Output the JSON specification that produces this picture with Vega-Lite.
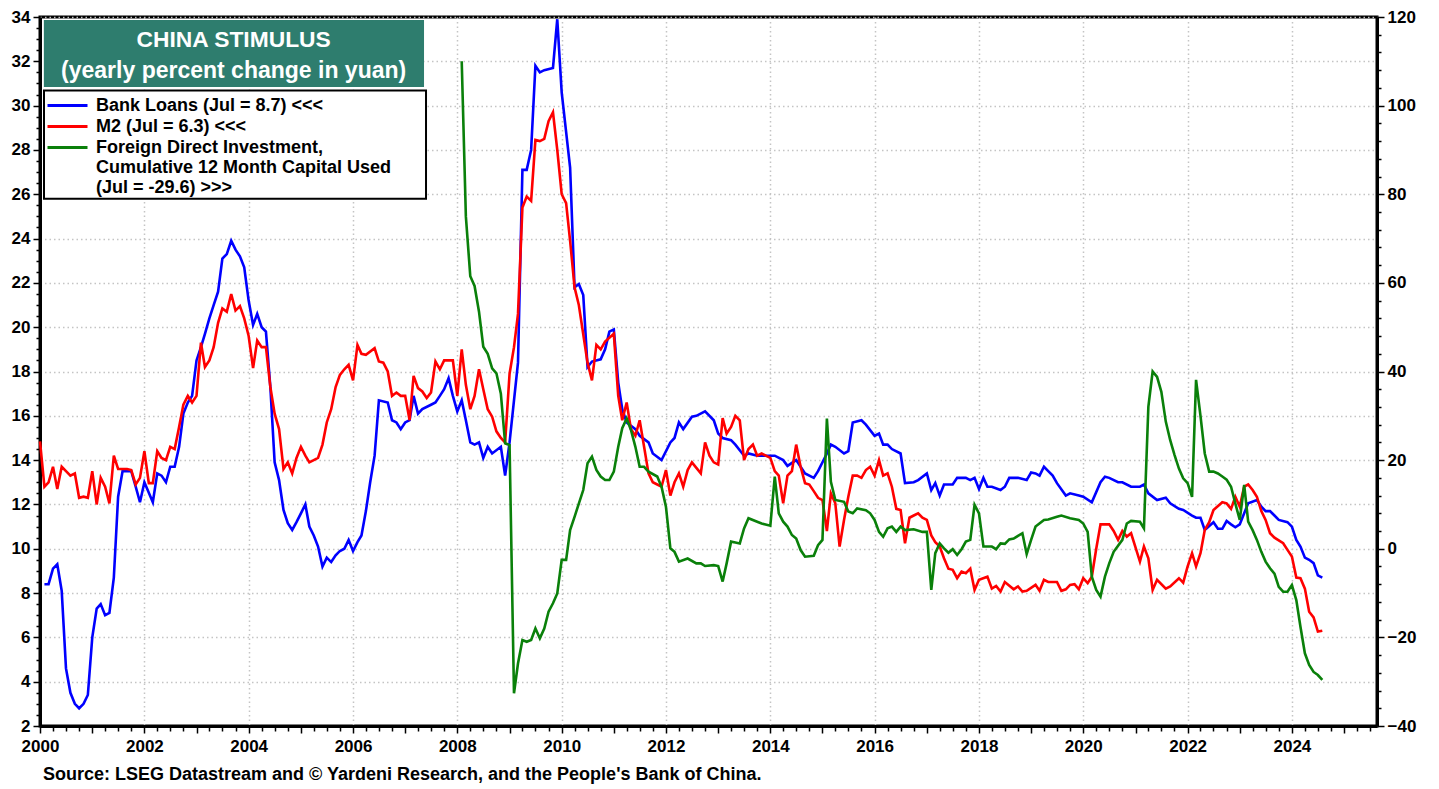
{
  "$schema": "https://vega.github.io/schema/vega-lite/v6.json",
  "width": 1337,
  "height": 709,
  "autosize": {"type": "none"},
  "padding": {"left": 40, "top": 17, "right": 62, "bottom": 63},
  "background": "white",
  "config": {
    "font": "Liberation Sans",
    "view": {"stroke": "black", "strokeWidth": 3},
    "axis": {
      "labelFont": "Liberation Sans",
      "labelFontWeight": "bold",
      "labelFontSize": 17,
      "labelColor": "black",
      "domainColor": "black",
      "domainWidth": 3,
      "tickColor": "black",
      "tickWidth": 1.5,
      "gridColor": "#c4c4c4",
      "gridDash": [1.5, 3],
      "gridWidth": 1.5,
      "labelOverlap": false,
      "labelFlush": false,
      "labelBound": false
    }
  },
  "title": {
    "text": "Source: LSEG Datastream and © Yardeni Research, and the People's Bank of China.",
    "orient": "bottom",
    "anchor": "start",
    "frame": "group",
    "dx": 3,
    "offset": 12,
    "font": "Liberation Sans",
    "fontSize": 18,
    "fontWeight": "bold",
    "color": "black"
  },
  "datasets": {
    "loans": [
      {"date": "2000-02", "value": 8.4}, {"date": "2000-03", "value": 8.4}, {"date": "2000-04", "value": 9.1}, {"date": "2000-05", "value": 9.3},
      {"date": "2000-06", "value": 8.1}, {"date": "2000-07", "value": 4.6}, {"date": "2000-08", "value": 3.5}, {"date": "2000-09", "value": 3.0},
      {"date": "2000-10", "value": 2.8}, {"date": "2000-11", "value": 3.0}, {"date": "2000-12", "value": 3.4}, {"date": "2001-01", "value": 6.0},
      {"date": "2001-02", "value": 7.3}, {"date": "2001-03", "value": 7.5}, {"date": "2001-04", "value": 7.0}, {"date": "2001-05", "value": 7.1},
      {"date": "2001-06", "value": 8.7}, {"date": "2001-07", "value": 12.35}, {"date": "2001-08", "value": 13.5}, {"date": "2001-10", "value": 13.5},
      {"date": "2001-11", "value": 12.8}, {"date": "2001-12", "value": 12.1}, {"date": "2002-01", "value": 13.0}, {"date": "2002-03", "value": 12.1},
      {"date": "2002-04", "value": 13.4}, {"date": "2002-05", "value": 13.3}, {"date": "2002-06", "value": 13.0}, {"date": "2002-07", "value": 13.7},
      {"date": "2002-08", "value": 13.7}, {"date": "2002-09", "value": 14.6}, {"date": "2002-10", "value": 16.1}, {"date": "2002-11", "value": 16.6},
      {"date": "2002-12", "value": 16.9}, {"date": "2003-01", "value": 18.5}, {"date": "2003-02", "value": 19.1}, {"date": "2003-03", "value": 19.7},
      {"date": "2003-04", "value": 20.4}, {"date": "2003-05", "value": 21.0}, {"date": "2003-06", "value": 21.6}, {"date": "2003-07", "value": 23.1},
      {"date": "2003-08", "value": 23.3}, {"date": "2003-09", "value": 23.9}, {"date": "2003-10", "value": 23.5}, {"date": "2003-11", "value": 23.2},
      {"date": "2003-12", "value": 22.7}, {"date": "2004-01", "value": 21.2}, {"date": "2004-02", "value": 20.1}, {"date": "2004-03", "value": 20.6},
      {"date": "2004-04", "value": 20.0}, {"date": "2004-05", "value": 19.8}, {"date": "2004-06", "value": 17.3}, {"date": "2004-07", "value": 13.9},
      {"date": "2004-08", "value": 13.1}, {"date": "2004-09", "value": 11.75}, {"date": "2004-10", "value": 11.15}, {"date": "2004-11", "value": 10.85},
      {"date": "2004-12", "value": 11.2}, {"date": "2005-01", "value": 11.6}, {"date": "2005-02", "value": 12.0}, {"date": "2005-03", "value": 11.0},
      {"date": "2005-04", "value": 10.6}, {"date": "2005-05", "value": 10.1}, {"date": "2005-06", "value": 9.2}, {"date": "2005-07", "value": 9.6},
      {"date": "2005-08", "value": 9.4}, {"date": "2005-09", "value": 9.7}, {"date": "2005-10", "value": 9.9}, {"date": "2005-11", "value": 10.0},
      {"date": "2005-12", "value": 10.4}, {"date": "2006-01", "value": 9.9}, {"date": "2006-02", "value": 10.3}, {"date": "2006-03", "value": 10.6},
      {"date": "2006-04", "value": 11.7}, {"date": "2006-05", "value": 13.0}, {"date": "2006-06", "value": 14.2}, {"date": "2006-07", "value": 16.7},
      {"date": "2006-09", "value": 16.6}, {"date": "2006-10", "value": 15.8}, {"date": "2006-11", "value": 15.7}, {"date": "2006-12", "value": 15.4},
      {"date": "2007-01", "value": 15.7}, {"date": "2007-02", "value": 15.8}, {"date": "2007-03", "value": 16.9}, {"date": "2007-04", "value": 16.1},
      {"date": "2007-05", "value": 16.3}, {"date": "2007-07", "value": 16.5}, {"date": "2007-08", "value": 16.6}, {"date": "2007-09", "value": 16.9},
      {"date": "2007-10", "value": 17.2}, {"date": "2007-11", "value": 17.7}, {"date": "2007-12", "value": 16.9}, {"date": "2008-01", "value": 16.2},
      {"date": "2008-02", "value": 16.7}, {"date": "2008-03", "value": 15.8}, {"date": "2008-04", "value": 14.8}, {"date": "2008-05", "value": 14.7},
      {"date": "2008-06", "value": 14.8}, {"date": "2008-07", "value": 14.1}, {"date": "2008-08", "value": 14.6}, {"date": "2008-09", "value": 14.3},
      {"date": "2008-11", "value": 14.6}, {"date": "2008-12", "value": 13.3}, {"date": "2009-01", "value": 14.8}, {"date": "2009-03", "value": 18.4},
      {"date": "2009-04", "value": 27.1}, {"date": "2009-05", "value": 27.1}, {"date": "2009-06", "value": 28.0}, {"date": "2009-07", "value": 31.8},
      {"date": "2009-08", "value": 31.5}, {"date": "2009-09", "value": 31.6}, {"date": "2009-11", "value": 31.7}, {"date": "2009-12", "value": 33.9},
      {"date": "2010-01", "value": 30.6}, {"date": "2010-03", "value": 27.2}, {"date": "2010-04", "value": 21.8}, {"date": "2010-05", "value": 21.95},
      {"date": "2010-06", "value": 21.45}, {"date": "2010-07", "value": 18.2}, {"date": "2010-08", "value": 18.45}, {"date": "2010-10", "value": 18.55},
      {"date": "2010-11", "value": 19.0}, {"date": "2010-12", "value": 19.8}, {"date": "2011-01", "value": 19.9}, {"date": "2011-02", "value": 17.5},
      {"date": "2011-03", "value": 16.3}, {"date": "2011-04", "value": 15.7}, {"date": "2011-06", "value": 15.4}, {"date": "2011-07", "value": 15.1},
      {"date": "2011-09", "value": 14.8}, {"date": "2011-10", "value": 14.3}, {"date": "2011-12", "value": 14.0}, {"date": "2012-02", "value": 14.8},
      {"date": "2012-03", "value": 15.0}, {"date": "2012-04", "value": 15.7}, {"date": "2012-05", "value": 15.4}, {"date": "2012-07", "value": 15.96},
      {"date": "2012-08", "value": 16.0}, {"date": "2012-10", "value": 16.2}, {"date": "2012-12", "value": 15.8}, {"date": "2013-01", "value": 15.2},
      {"date": "2013-02", "value": 15.0}, {"date": "2013-04", "value": 14.9}, {"date": "2013-05", "value": 14.7}, {"date": "2013-07", "value": 14.2},
      {"date": "2013-08", "value": 14.3}, {"date": "2013-10", "value": 14.2}, {"date": "2013-12", "value": 14.2}, {"date": "2014-02", "value": 14.2},
      {"date": "2014-04", "value": 14.0}, {"date": "2014-05", "value": 13.74}, {"date": "2014-07", "value": 14.0}, {"date": "2014-09", "value": 13.4},
      {"date": "2014-11", "value": 13.2}, {"date": "2014-12", "value": 13.5}, {"date": "2015-02", "value": 14.3}, {"date": "2015-03", "value": 14.7},
      {"date": "2015-04", "value": 14.6}, {"date": "2015-06", "value": 14.3}, {"date": "2015-07", "value": 14.4}, {"date": "2015-08", "value": 15.7},
      {"date": "2015-10", "value": 15.8}, {"date": "2015-11", "value": 15.6}, {"date": "2016-01", "value": 15.1}, {"date": "2016-02", "value": 15.2},
      {"date": "2016-03", "value": 14.7}, {"date": "2016-04", "value": 14.7}, {"date": "2016-05", "value": 14.5}, {"date": "2016-07", "value": 14.3},
      {"date": "2016-08", "value": 12.96}, {"date": "2016-10", "value": 13.0}, {"date": "2016-11", "value": 13.1}, {"date": "2017-01", "value": 13.4},
      {"date": "2017-02", "value": 12.65}, {"date": "2017-03", "value": 12.96}, {"date": "2017-04", "value": 12.4}, {"date": "2017-05", "value": 12.9},
      {"date": "2017-07", "value": 12.9}, {"date": "2017-08", "value": 13.2}, {"date": "2017-10", "value": 13.2}, {"date": "2017-11", "value": 13.1},
      {"date": "2017-12", "value": 13.2}, {"date": "2018-01", "value": 12.7}, {"date": "2018-02", "value": 13.2}, {"date": "2018-03", "value": 12.8},
      {"date": "2018-04", "value": 12.8}, {"date": "2018-06", "value": 12.65}, {"date": "2018-07", "value": 12.8}, {"date": "2018-08", "value": 13.2},
      {"date": "2018-10", "value": 13.2}, {"date": "2018-12", "value": 13.1}, {"date": "2019-01", "value": 13.44}, {"date": "2019-02", "value": 13.4},
      {"date": "2019-03", "value": 13.3}, {"date": "2019-04", "value": 13.7}, {"date": "2019-05", "value": 13.5}, {"date": "2019-06", "value": 13.3},
      {"date": "2019-07", "value": 12.96}, {"date": "2019-09", "value": 12.4}, {"date": "2019-10", "value": 12.5}, {"date": "2019-12", "value": 12.4},
      {"date": "2020-01", "value": 12.35}, {"date": "2020-03", "value": 12.1}, {"date": "2020-05", "value": 13.0}, {"date": "2020-06", "value": 13.25},
      {"date": "2020-07", "value": 13.2}, {"date": "2020-09", "value": 13.0}, {"date": "2020-10", "value": 13.0}, {"date": "2020-12", "value": 12.8},
      {"date": "2021-02", "value": 12.8}, {"date": "2021-03", "value": 12.9}, {"date": "2021-04", "value": 12.5}, {"date": "2021-06", "value": 12.2},
      {"date": "2021-08", "value": 12.3}, {"date": "2021-09", "value": 12.05}, {"date": "2021-11", "value": 11.8}, {"date": "2021-12", "value": 11.75},
      {"date": "2022-02", "value": 11.5}, {"date": "2022-03", "value": 11.4}, {"date": "2022-04", "value": 11.4}, {"date": "2022-05", "value": 10.85},
      {"date": "2022-07", "value": 11.2}, {"date": "2022-08", "value": 10.9}, {"date": "2022-09", "value": 10.9}, {"date": "2022-10", "value": 11.25},
      {"date": "2022-11", "value": 11.1}, {"date": "2022-12", "value": 10.97}, {"date": "2023-01", "value": 11.1}, {"date": "2023-02", "value": 11.6},
      {"date": "2023-03", "value": 12.05}, {"date": "2023-05", "value": 12.2}, {"date": "2023-06", "value": 11.9}, {"date": "2023-07", "value": 11.7},
      {"date": "2023-08", "value": 11.7}, {"date": "2023-09", "value": 11.5}, {"date": "2023-10", "value": 11.3}, {"date": "2023-12", "value": 11.2},
      {"date": "2024-01", "value": 11.0}, {"date": "2024-02", "value": 10.4}, {"date": "2024-03", "value": 10.1}, {"date": "2024-04", "value": 9.6},
      {"date": "2024-05", "value": 9.5}, {"date": "2024-06", "value": 9.35}, {"date": "2024-07", "value": 8.8}, {"date": "2024-08", "value": 8.7}
    ],
    "m2": [
      {"date": "2000-01", "value": 14.85}, {"date": "2000-02", "value": 12.8}, {"date": "2000-03", "value": 13.0}, {"date": "2000-04", "value": 13.7},
      {"date": "2000-05", "value": 12.7}, {"date": "2000-06", "value": 13.7}, {"date": "2000-07", "value": 13.5}, {"date": "2000-08", "value": 13.3},
      {"date": "2000-09", "value": 13.4}, {"date": "2000-10", "value": 12.3}, {"date": "2000-11", "value": 12.35}, {"date": "2000-12", "value": 12.3},
      {"date": "2001-01", "value": 13.5}, {"date": "2001-02", "value": 12.0}, {"date": "2001-03", "value": 13.2}, {"date": "2001-04", "value": 12.8},
      {"date": "2001-05", "value": 12.05}, {"date": "2001-06", "value": 14.2}, {"date": "2001-07", "value": 13.6}, {"date": "2001-09", "value": 13.6},
      {"date": "2001-10", "value": 13.55}, {"date": "2001-11", "value": 12.9}, {"date": "2001-12", "value": 13.2}, {"date": "2002-01", "value": 14.4},
      {"date": "2002-02", "value": 12.96}, {"date": "2002-03", "value": 12.96}, {"date": "2002-04", "value": 14.4}, {"date": "2002-05", "value": 14.1},
      {"date": "2002-06", "value": 14.0}, {"date": "2002-07", "value": 14.6}, {"date": "2002-08", "value": 14.5}, {"date": "2002-09", "value": 15.5},
      {"date": "2002-10", "value": 16.5}, {"date": "2002-11", "value": 16.9}, {"date": "2002-12", "value": 16.6}, {"date": "2003-01", "value": 16.9},
      {"date": "2003-02", "value": 19.3}, {"date": "2003-03", "value": 18.2}, {"date": "2003-04", "value": 18.5}, {"date": "2003-05", "value": 19.1},
      {"date": "2003-06", "value": 20.2}, {"date": "2003-07", "value": 20.85}, {"date": "2003-08", "value": 20.7}, {"date": "2003-09", "value": 21.5},
      {"date": "2003-10", "value": 20.75}, {"date": "2003-11", "value": 20.95}, {"date": "2003-12", "value": 20.4}, {"date": "2004-01", "value": 19.6},
      {"date": "2004-02", "value": 18.15}, {"date": "2004-03", "value": 19.4}, {"date": "2004-04", "value": 19.1}, {"date": "2004-05", "value": 19.1},
      {"date": "2004-06", "value": 17.3}, {"date": "2004-07", "value": 16.1}, {"date": "2004-08", "value": 15.4}, {"date": "2004-09", "value": 13.6},
      {"date": "2004-10", "value": 13.9}, {"date": "2004-11", "value": 13.4}, {"date": "2004-12", "value": 14.1}, {"date": "2005-01", "value": 14.6},
      {"date": "2005-02", "value": 14.2}, {"date": "2005-03", "value": 13.9}, {"date": "2005-04", "value": 14.0}, {"date": "2005-05", "value": 14.1},
      {"date": "2005-06", "value": 14.7}, {"date": "2005-07", "value": 15.7}, {"date": "2005-08", "value": 16.3}, {"date": "2005-09", "value": 17.3},
      {"date": "2005-10", "value": 17.85}, {"date": "2005-11", "value": 18.1}, {"date": "2005-12", "value": 18.3}, {"date": "2006-01", "value": 17.6},
      {"date": "2006-02", "value": 19.2}, {"date": "2006-03", "value": 18.8}, {"date": "2006-04", "value": 18.75}, {"date": "2006-06", "value": 19.05},
      {"date": "2006-07", "value": 18.45}, {"date": "2006-08", "value": 18.4}, {"date": "2006-09", "value": 18.0}, {"date": "2006-10", "value": 16.9},
      {"date": "2006-11", "value": 17.05}, {"date": "2006-12", "value": 16.9}, {"date": "2007-01", "value": 16.9}, {"date": "2007-02", "value": 15.8},
      {"date": "2007-03", "value": 17.8}, {"date": "2007-04", "value": 17.25}, {"date": "2007-05", "value": 17.1}, {"date": "2007-06", "value": 16.8},
      {"date": "2007-07", "value": 17.05}, {"date": "2007-08", "value": 18.45}, {"date": "2007-09", "value": 18.1}, {"date": "2007-10", "value": 18.5},
      {"date": "2007-12", "value": 18.5}, {"date": "2008-01", "value": 16.9}, {"date": "2008-02", "value": 19.0}, {"date": "2008-03", "value": 17.4},
      {"date": "2008-04", "value": 16.3}, {"date": "2008-05", "value": 16.9}, {"date": "2008-06", "value": 18.1}, {"date": "2008-07", "value": 17.2},
      {"date": "2008-08", "value": 16.3}, {"date": "2008-09", "value": 15.96}, {"date": "2008-10", "value": 15.3}, {"date": "2008-11", "value": 15.0},
      {"date": "2008-12", "value": 14.8}, {"date": "2009-01", "value": 17.9}, {"date": "2009-02", "value": 19.1}, {"date": "2009-03", "value": 20.6},
      {"date": "2009-04", "value": 25.4}, {"date": "2009-05", "value": 25.9}, {"date": "2009-06", "value": 25.7}, {"date": "2009-07", "value": 28.45},
      {"date": "2009-08", "value": 28.4}, {"date": "2009-09", "value": 28.5}, {"date": "2009-10", "value": 29.3}, {"date": "2009-11", "value": 29.7},
      {"date": "2009-12", "value": 28.0}, {"date": "2010-01", "value": 26.0}, {"date": "2010-02", "value": 25.6}, {"date": "2010-03", "value": 23.9},
      {"date": "2010-04", "value": 21.8}, {"date": "2010-05", "value": 21.0}, {"date": "2010-07", "value": 18.4}, {"date": "2010-08", "value": 17.6},
      {"date": "2010-09", "value": 19.2}, {"date": "2010-10", "value": 19.0}, {"date": "2010-11", "value": 19.35}, {"date": "2011-01", "value": 19.7},
      {"date": "2011-02", "value": 16.9}, {"date": "2011-03", "value": 15.8}, {"date": "2011-04", "value": 16.6}, {"date": "2011-05", "value": 15.4},
      {"date": "2011-06", "value": 15.1}, {"date": "2011-07", "value": 15.8}, {"date": "2011-08", "value": 14.6}, {"date": "2011-09", "value": 13.4},
      {"date": "2011-10", "value": 13.0}, {"date": "2011-11", "value": 12.9}, {"date": "2011-12", "value": 12.8}, {"date": "2012-01", "value": 13.55},
      {"date": "2012-02", "value": 12.4}, {"date": "2012-03", "value": 13.0}, {"date": "2012-04", "value": 13.4}, {"date": "2012-05", "value": 12.8},
      {"date": "2012-06", "value": 13.55}, {"date": "2012-07", "value": 13.9}, {"date": "2012-09", "value": 13.4}, {"date": "2012-10", "value": 14.8},
      {"date": "2012-11", "value": 14.2}, {"date": "2012-12", "value": 13.9}, {"date": "2013-01", "value": 13.8}, {"date": "2013-02", "value": 15.9},
      {"date": "2013-03", "value": 15.2}, {"date": "2013-04", "value": 15.5}, {"date": "2013-05", "value": 16.0}, {"date": "2013-06", "value": 15.8},
      {"date": "2013-07", "value": 14.0}, {"date": "2013-08", "value": 14.5}, {"date": "2013-09", "value": 14.7}, {"date": "2013-10", "value": 14.2},
      {"date": "2013-11", "value": 14.3}, {"date": "2014-01", "value": 14.1}, {"date": "2014-02", "value": 13.5}, {"date": "2014-03", "value": 13.3},
      {"date": "2014-04", "value": 12.05}, {"date": "2014-05", "value": 13.3}, {"date": "2014-06", "value": 13.5}, {"date": "2014-07", "value": 14.7},
      {"date": "2014-08", "value": 13.7}, {"date": "2014-09", "value": 12.96}, {"date": "2014-10", "value": 12.9}, {"date": "2014-11", "value": 12.6},
      {"date": "2014-12", "value": 12.3}, {"date": "2015-01", "value": 12.2}, {"date": "2015-02", "value": 10.8}, {"date": "2015-03", "value": 12.5},
      {"date": "2015-04", "value": 12.05}, {"date": "2015-05", "value": 10.1}, {"date": "2015-06", "value": 11.3}, {"date": "2015-07", "value": 12.35},
      {"date": "2015-08", "value": 13.3}, {"date": "2015-09", "value": 13.3}, {"date": "2015-10", "value": 13.2}, {"date": "2015-11", "value": 13.55},
      {"date": "2015-12", "value": 13.7}, {"date": "2016-01", "value": 13.3}, {"date": "2016-02", "value": 14.0}, {"date": "2016-03", "value": 13.3},
      {"date": "2016-04", "value": 13.4}, {"date": "2016-05", "value": 12.8}, {"date": "2016-06", "value": 11.8}, {"date": "2016-07", "value": 11.75},
      {"date": "2016-08", "value": 10.25}, {"date": "2016-09", "value": 11.4}, {"date": "2016-10", "value": 11.5}, {"date": "2016-11", "value": 11.6},
      {"date": "2016-12", "value": 11.4}, {"date": "2017-01", "value": 11.3}, {"date": "2017-02", "value": 10.6}, {"date": "2017-03", "value": 10.3},
      {"date": "2017-04", "value": 10.1}, {"date": "2017-05", "value": 9.57}, {"date": "2017-06", "value": 9.1}, {"date": "2017-07", "value": 9.05},
      {"date": "2017-08", "value": 8.67}, {"date": "2017-09", "value": 8.97}, {"date": "2017-10", "value": 8.9}, {"date": "2017-11", "value": 9.1},
      {"date": "2017-12", "value": 8.14}, {"date": "2018-01", "value": 8.6}, {"date": "2018-03", "value": 8.74}, {"date": "2018-04", "value": 8.2},
      {"date": "2018-05", "value": 8.32}, {"date": "2018-06", "value": 8.07}, {"date": "2018-07", "value": 8.5}, {"date": "2018-09", "value": 8.17},
      {"date": "2018-10", "value": 8.3}, {"date": "2018-11", "value": 8.07}, {"date": "2018-12", "value": 8.1}, {"date": "2019-02", "value": 8.37},
      {"date": "2019-03", "value": 8.1}, {"date": "2019-04", "value": 8.6}, {"date": "2019-05", "value": 8.5}, {"date": "2019-07", "value": 8.5},
      {"date": "2019-08", "value": 8.1}, {"date": "2019-09", "value": 8.17}, {"date": "2019-10", "value": 8.37}, {"date": "2019-11", "value": 8.4},
      {"date": "2019-12", "value": 8.17}, {"date": "2020-01", "value": 8.67}, {"date": "2020-02", "value": 8.45}, {"date": "2020-03", "value": 8.74},
      {"date": "2020-04", "value": 10.0}, {"date": "2020-05", "value": 11.1}, {"date": "2020-06", "value": 11.1}, {"date": "2020-07", "value": 11.1},
      {"date": "2020-08", "value": 10.8}, {"date": "2020-09", "value": 10.4}, {"date": "2020-10", "value": 10.8}, {"date": "2020-11", "value": 10.55},
      {"date": "2020-12", "value": 10.7}, {"date": "2021-01", "value": 10.06}, {"date": "2021-02", "value": 9.42}, {"date": "2021-03", "value": 10.1},
      {"date": "2021-04", "value": 9.57}, {"date": "2021-05", "value": 8.14}, {"date": "2021-06", "value": 8.6}, {"date": "2021-08", "value": 8.2},
      {"date": "2021-09", "value": 8.3}, {"date": "2021-11", "value": 8.67}, {"date": "2021-12", "value": 8.47}, {"date": "2022-01", "value": 9.2},
      {"date": "2022-02", "value": 9.8}, {"date": "2022-03", "value": 9.2}, {"date": "2022-04", "value": 9.8}, {"date": "2022-05", "value": 10.85},
      {"date": "2022-06", "value": 11.2}, {"date": "2022-07", "value": 11.75}, {"date": "2022-09", "value": 12.1}, {"date": "2022-10", "value": 12.05},
      {"date": "2022-11", "value": 11.8}, {"date": "2022-12", "value": 12.35}, {"date": "2023-01", "value": 11.9}, {"date": "2023-02", "value": 12.8},
      {"date": "2023-03", "value": 12.9}, {"date": "2023-04", "value": 12.65}, {"date": "2023-05", "value": 12.35}, {"date": "2023-06", "value": 11.7},
      {"date": "2023-07", "value": 11.3}, {"date": "2023-08", "value": 10.7}, {"date": "2023-09", "value": 10.5}, {"date": "2023-11", "value": 10.25},
      {"date": "2023-12", "value": 9.95}, {"date": "2024-01", "value": 9.65}, {"date": "2024-02", "value": 8.7}, {"date": "2024-03", "value": 8.67},
      {"date": "2024-04", "value": 8.2}, {"date": "2024-05", "value": 7.16}, {"date": "2024-06", "value": 6.9}, {"date": "2024-07", "value": 6.26},
      {"date": "2024-08", "value": 6.3}
    ],
    "fdi": [
      {"date": "2008-02", "value": 110}, {"date": "2008-03", "value": 75}, {"date": "2008-04", "value": 61.5}, {"date": "2008-05", "value": 59.3},
      {"date": "2008-06", "value": 53.5}, {"date": "2008-07", "value": 45.6}, {"date": "2008-08", "value": 44.0}, {"date": "2008-09", "value": 40.7},
      {"date": "2008-10", "value": 39.6}, {"date": "2008-11", "value": 35.0}, {"date": "2008-12", "value": 23.8}, {"date": "2009-01", "value": 23.4},
      {"date": "2009-02", "value": -32.6}, {"date": "2009-03", "value": -25.9}, {"date": "2009-04", "value": -20.6}, {"date": "2009-05", "value": -21.0},
      {"date": "2009-06", "value": -20.6}, {"date": "2009-07", "value": -18.0}, {"date": "2009-08", "value": -20.2}, {"date": "2009-09", "value": -18.0},
      {"date": "2009-10", "value": -14.2}, {"date": "2009-11", "value": -12.3}, {"date": "2009-12", "value": -10.1}, {"date": "2010-01", "value": -2.5},
      {"date": "2010-02", "value": -2.5}, {"date": "2010-03", "value": 4.2}, {"date": "2010-04", "value": 7.2}, {"date": "2010-05", "value": 10.2},
      {"date": "2010-06", "value": 13.25}, {"date": "2010-07", "value": 19.3}, {"date": "2010-08", "value": 20.8}, {"date": "2010-09", "value": 17.8},
      {"date": "2010-10", "value": 16.3}, {"date": "2010-11", "value": 15.5}, {"date": "2010-12", "value": 15.5}, {"date": "2011-01", "value": 17.4},
      {"date": "2011-02", "value": 23.0}, {"date": "2011-03", "value": 27.2}, {"date": "2011-04", "value": 29.4}, {"date": "2011-05", "value": 26.8},
      {"date": "2011-06", "value": 23.0}, {"date": "2011-07", "value": 18.5}, {"date": "2011-08", "value": 18.5}, {"date": "2011-09", "value": 17.4},
      {"date": "2011-11", "value": 16.3}, {"date": "2011-12", "value": 14.0}, {"date": "2012-01", "value": 9.5}, {"date": "2012-02", "value": 0.1},
      {"date": "2012-03", "value": -0.7}, {"date": "2012-04", "value": -2.9}, {"date": "2012-06", "value": -2.2}, {"date": "2012-08", "value": -3.3},
      {"date": "2012-09", "value": -3.3}, {"date": "2012-10", "value": -3.9}, {"date": "2012-12", "value": -3.7}, {"date": "2013-01", "value": -3.9},
      {"date": "2013-02", "value": -7.4}, {"date": "2013-03", "value": -3.3}, {"date": "2013-04", "value": 1.6}, {"date": "2013-05", "value": 1.4},
      {"date": "2013-06", "value": 1.2}, {"date": "2013-07", "value": 4.6}, {"date": "2013-08", "value": 6.9}, {"date": "2013-10", "value": 6.1},
      {"date": "2013-11", "value": 5.7}, {"date": "2014-01", "value": 5.2}, {"date": "2014-02", "value": 16.3}, {"date": "2014-03", "value": 8.0},
      {"date": "2014-04", "value": 6.1}, {"date": "2014-05", "value": 5.0}, {"date": "2014-06", "value": 3.1}, {"date": "2014-07", "value": 2.3},
      {"date": "2014-08", "value": -0.3}, {"date": "2014-09", "value": -1.8}, {"date": "2014-11", "value": -1.6}, {"date": "2014-12", "value": 0.8},
      {"date": "2015-01", "value": 2.0}, {"date": "2015-02", "value": 29.4}, {"date": "2015-03", "value": 15.1}, {"date": "2015-04", "value": 11.0},
      {"date": "2015-06", "value": 10.6}, {"date": "2015-07", "value": 8.4}, {"date": "2015-08", "value": 8.0}, {"date": "2015-09", "value": 9.1},
      {"date": "2015-11", "value": 8.7}, {"date": "2015-12", "value": 8.0}, {"date": "2016-01", "value": 6.5}, {"date": "2016-02", "value": 3.8},
      {"date": "2016-03", "value": 2.7}, {"date": "2016-04", "value": 4.6}, {"date": "2016-05", "value": 5.0}, {"date": "2016-06", "value": 3.8},
      {"date": "2016-07", "value": 5.0}, {"date": "2016-08", "value": 4.2}, {"date": "2016-10", "value": 4.4}, {"date": "2016-12", "value": 3.8},
      {"date": "2017-01", "value": 3.8}, {"date": "2017-02", "value": -9.3}, {"date": "2017-03", "value": -1.0}, {"date": "2017-04", "value": 1.2},
      {"date": "2017-05", "value": 0.1}, {"date": "2017-06", "value": -0.9}, {"date": "2017-07", "value": -0.1}, {"date": "2017-08", "value": -1.4},
      {"date": "2017-09", "value": -0.1}, {"date": "2017-10", "value": 1.6}, {"date": "2017-11", "value": 2.0}, {"date": "2017-12", "value": 9.9},
      {"date": "2018-01", "value": 8.0}, {"date": "2018-02", "value": 0.5}, {"date": "2018-04", "value": 0.5}, {"date": "2018-05", "value": -0.1},
      {"date": "2018-06", "value": 1.2}, {"date": "2018-07", "value": 1.1}, {"date": "2018-08", "value": 2.1}, {"date": "2018-09", "value": 2.3},
      {"date": "2018-10", "value": 2.9}, {"date": "2018-11", "value": 3.5}, {"date": "2018-12", "value": -1.2}, {"date": "2019-01", "value": 2.0},
      {"date": "2019-02", "value": 5.0}, {"date": "2019-04", "value": 6.5}, {"date": "2019-05", "value": 6.6}, {"date": "2019-07", "value": 7.2},
      {"date": "2019-08", "value": 7.5}, {"date": "2019-10", "value": 6.9}, {"date": "2019-12", "value": 6.5}, {"date": "2020-01", "value": 5.7},
      {"date": "2020-02", "value": 3.8}, {"date": "2020-03", "value": -6.3}, {"date": "2020-04", "value": -9.3}, {"date": "2020-05", "value": -10.8},
      {"date": "2020-06", "value": -6.3}, {"date": "2020-07", "value": -3.3}, {"date": "2020-08", "value": -0.7}, {"date": "2020-10", "value": 2.0},
      {"date": "2020-11", "value": 5.7}, {"date": "2020-12", "value": 6.3}, {"date": "2021-02", "value": 6.1}, {"date": "2021-03", "value": 4.6},
      {"date": "2021-04", "value": 32.0}, {"date": "2021-05", "value": 40.0}, {"date": "2021-06", "value": 38.8}, {"date": "2021-07", "value": 35.4},
      {"date": "2021-08", "value": 28.7}, {"date": "2021-09", "value": 24.5}, {"date": "2021-10", "value": 21.2}, {"date": "2021-11", "value": 18.1},
      {"date": "2021-12", "value": 15.9}, {"date": "2022-01", "value": 14.8}, {"date": "2022-02", "value": 11.7}, {"date": "2022-03", "value": 38.1},
      {"date": "2022-04", "value": 30.0}, {"date": "2022-05", "value": 21.5}, {"date": "2022-06", "value": 17.4}, {"date": "2022-07", "value": 17.4},
      {"date": "2022-08", "value": 17.0}, {"date": "2022-09", "value": 16.3}, {"date": "2022-10", "value": 15.6}, {"date": "2022-11", "value": 14.0},
      {"date": "2022-12", "value": 10.2}, {"date": "2023-01", "value": 6.5}, {"date": "2023-02", "value": 14.4}, {"date": "2023-03", "value": 6.1},
      {"date": "2023-04", "value": 4.2}, {"date": "2023-05", "value": 2.0}, {"date": "2023-06", "value": -0.7}, {"date": "2023-07", "value": -2.9},
      {"date": "2023-08", "value": -4.4}, {"date": "2023-09", "value": -5.6}, {"date": "2023-10", "value": -8.6}, {"date": "2023-11", "value": -9.7},
      {"date": "2023-12", "value": -9.7}, {"date": "2024-01", "value": -8.2}, {"date": "2024-02", "value": -11.6}, {"date": "2024-03", "value": -17.6},
      {"date": "2024-04", "value": -23.6}, {"date": "2024-05", "value": -26.2}, {"date": "2024-06", "value": -27.8}, {"date": "2024-07", "value": -28.5},
      {"date": "2024-08", "value": -29.6}
    ]
  },
  "layer": [
    {
      "layer": [
        {
          "data": {"values": [{}]},
          "mark": {"type": "rect", "fill": "#2e7d6e"},
          "encoding": {
            "x": {"datum": {"year": 2000, "month": 1, "date": 28, "utc": true}, "type": "temporal"},
            "x2": {"datum": {"year": 2007, "month": 5, "date": 13, "utc": true}},
            "y": {"datum": 33.86, "type": "quantitative"},
            "y2": {"datum": 30.84}
          }
        },
        {
          "data": {"values": [{}]},
          "mark": {"type": "rect", "fill": "white", "stroke": "black", "strokeWidth": 2},
          "encoding": {
            "x": {"datum": {"year": 2000, "month": 1, "date": 29, "utc": true}, "type": "temporal"},
            "x2": {"datum": {"year": 2007, "month": 5, "date": 27, "utc": true}},
            "y": {"datum": 30.68, "type": "quantitative"},
            "y2": {"datum": 25.8}
          }
        },
        {
          "data": {"values": [{}]},
          "mark": {"type": "text", "text": "CHINA STIMULUS", "color": "white", "font": "Liberation Sans", "fontSize": 22.8, "fontWeight": "bold", "align": "center", "baseline": "alphabetic"},
          "encoding": {
            "x": {"datum": {"year": 2003, "month": 9, "date": 18, "utc": true}, "type": "temporal"},
            "y": {"datum": 32.66, "type": "quantitative"}
          }
        },
        {
          "data": {"values": [{}]},
          "mark": {"type": "text", "text": "(yearly percent change in yuan)", "color": "white", "font": "Liberation Sans", "fontSize": 23, "fontWeight": "bold", "align": "center", "baseline": "alphabetic"},
          "encoding": {
            "x": {"datum": {"year": 2003, "month": 9, "date": 18, "utc": true}, "type": "temporal"},
            "y": {"datum": 31.23, "type": "quantitative"}
          }
        },
        {
          "data": {"name": "loans"},
          "mark": {"type": "line", "strokeWidth": 2.6},
          "encoding": {
            "x": {
              "field": "date",
              "type": "temporal",
              "scale": {"type": "utc", "domain": [{"year": 2000, "month": 1, "date": 1, "utc": true}, {"year": 2025, "month": 8, "date": 19, "utc": true}]},
              "axis": {
                "title": null,
                "tickCount": {"interval": "month", "step": 3},
                "labelExpr": "utcmonth(datum.value) == 0 && utcyear(datum.value) % 2 == 0 ? utcFormat(datum.value, '%Y') : ''",
                "tickSize": {"condition": {"test": "utcmonth(datum.value) == 0", "value": 7}, "value": 5},
                "labelPadding": 5,
                "grid": true,
                "gridOpacity": {"condition": {"test": "utcmonth(datum.value) == 0 && utcyear(datum.value) % 2 == 0", "value": 1}, "value": 0}
              }
            },
            "y": {
              "field": "value",
              "type": "quantitative",
              "scale": {"domain": [2, 34], "nice": false, "zero": false},
              "axis": {
                "orient": "left",
                "title": null,
                "tickCount": 64,
                "labelExpr": "datum.value % 2 == 0 ? format(datum.value, 'd') : ''",
                "tickSize": {"condition": {"test": "datum.value % 2 == 0", "value": 7}, "value": 4},
                "labelPadding": 3,
                "grid": true,
                "gridOpacity": {"condition": {"test": "datum.value % 2 == 0", "value": 1}, "value": 0}
              }
            },
            "color": {
              "datum": "Bank Loans (Jul = 8.7) <<<",
              "type": "nominal",
              "scale": {
                "domain": ["Bank Loans (Jul = 8.7) <<<", "M2 (Jul = 6.3) <<<", "Foreign Direct Investment, Cumulative 12 Month Capital Used (Jul = -29.6) >>>"],
                "range": ["#0000ff", "#ff0000", "#0a800a"]
              },
              "legend": {
                "orient": "none",
                "legendX": 8,
                "legendY": 77,
                "title": null,
                "padding": 0,
                "symbolType": "M-2,0H2",
                "symbolSize": 400,
                "symbolStrokeWidth": 3,
                "symbolOffset": 8,
                "labelFont": "Liberation Sans",
                "labelFontSize": 18,
                "labelFontWeight": "bold",
                "labelColor": "black",
                "labelOffset": 17,
                "labelLimit": 0,
                "rowPadding": 0,
                "labelExpr": "indexof(datum.label, 'Foreign') == 0 ? ['Foreign Direct Investment,', 'Cumulative 12 Month Capital Used', '(Jul = -29.6) >>>'] : datum.label"
              }
            }
          }
        },
        {
          "data": {"name": "m2"},
          "mark": {"type": "line", "strokeWidth": 2.6},
          "encoding": {
            "x": {"field": "date", "type": "temporal"},
            "y": {"field": "value", "type": "quantitative"},
            "color": {"datum": "M2 (Jul = 6.3) <<<", "type": "nominal"}
          }
        }
      ]
    },
    {
      "data": {"name": "fdi"},
      "mark": {"type": "line", "strokeWidth": 2.6},
      "encoding": {
        "x": {"field": "date", "type": "temporal"},
        "y": {
          "field": "value",
          "type": "quantitative",
          "scale": {"domain": [-40, 120], "nice": false, "zero": false},
          "axis": {
            "orient": "right",
            "title": null,
            "values": [-40, -36, -32, -28, -24, -20, -16, -12, -8, -4, 0, 4, 8, 12, 16, 20, 24, 28, 32, 36, 40, 44, 48, 52, 56, 60, 64, 68, 72, 76, 80, 84, 88, 92, 96, 100, 104, 108, 112, 116, 120],
            "labelExpr": "datum.value % 20 == 0 ? datum.label : ''",
            "tickSize": {"condition": {"test": "datum.value % 20 == 0", "value": 7}, "value": 4},
            "labelPadding": 3,
            "grid": false
          }
        },
        "color": {"datum": "Foreign Direct Investment, Cumulative 12 Month Capital Used (Jul = -29.6) >>>", "type": "nominal"}
      }
    }
  ],
  "resolve": {"scale": {"y": "independent"}}
}
